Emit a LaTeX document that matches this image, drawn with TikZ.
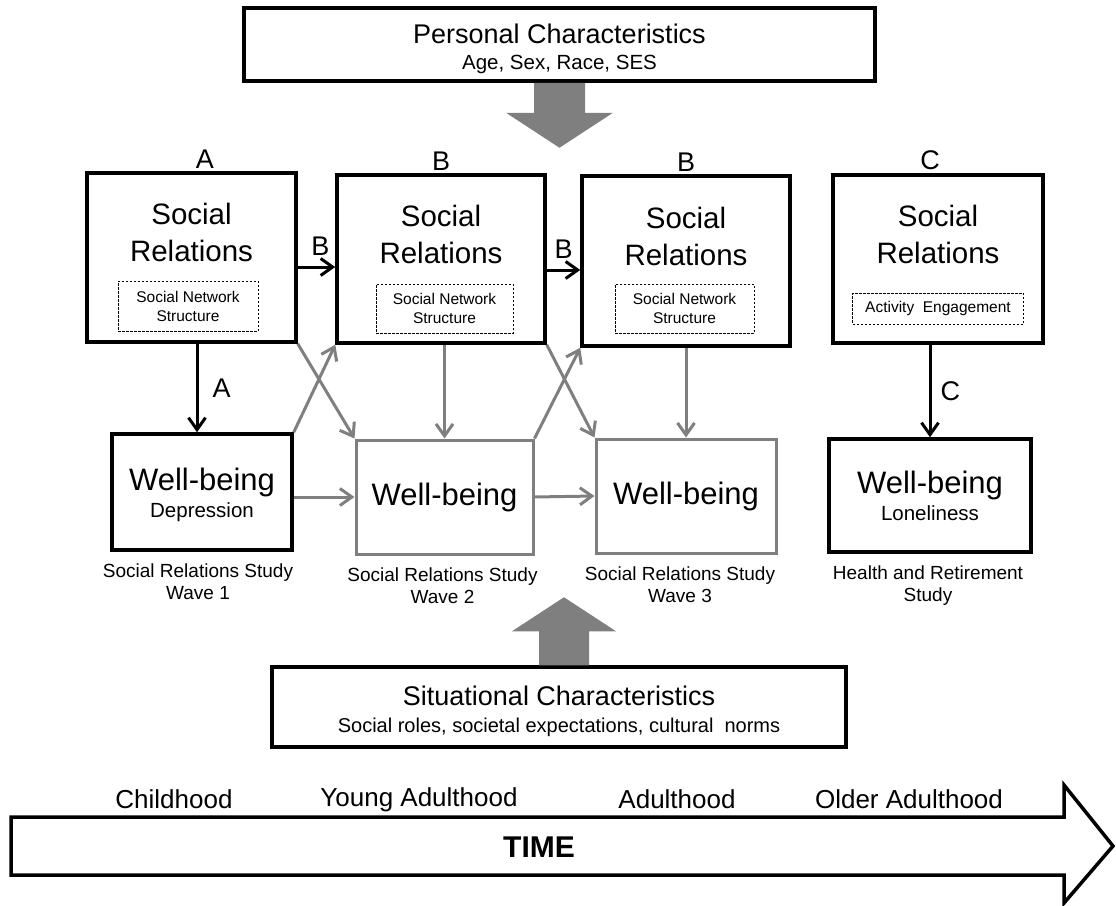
\documentclass[tikz,border=0pt]{standalone}
\usepackage{fontspec}
\setmainfont{Liberation Sans}
\usetikzlibrary{arrows.meta,positioning}
\definecolor{midgray}{HTML}{7F7F7F}

\begin{document}
\begin{tikzpicture}[x=1pt,y=-1pt,
box/.style={draw,line width=3.5pt,inner sep=0pt},
grbox/.style={draw=midgray,line width=3pt,inner sep=0pt},
netbox/.style={draw,line width=0.8pt,dash pattern=on 2.5pt off 1.5pt,align=center,inner sep=0pt,font=\fontsize{15.5}{19}\selectfont},
srtxt/.style={align=center,inner sep=0pt,font=\fontsize{29.5}{37}\selectfont},
wbtxt/.style={inner sep=0pt,font=\fontsize{31}{36}\selectfont},
hdtxt/.style={inner sep=0pt,anchor=base,font=\fontsize{27}{32}\selectfont},
subtxt/.style={inner sep=0pt,anchor=base,font=\fontsize{20.5}{24}\selectfont},
captxt/.style={align=center,inner sep=0pt,font=\fontsize{19}{22}\selectfont},
lett/.style={inner sep=0pt,font=\fontsize{27}{32}\selectfont},
agetxt/.style={inner sep=0pt,anchor=base,font=\fontsize{26}{30}\selectfont},
blk/.style={line width=3pt,-{Straight Barb[length=12pt,width=17pt]}},
gry/.style={blk,midgray},
fatarrow/.style={fill=midgray}]
\useasboundingbox (0,0) rectangle (1116,905);
% personal characteristics
\node[box,minimum width=631pt,minimum height=73pt] (pers) at (559.5,44.5) {};
\node[hdtxt] (perst) at ([yshift=1.5pt]pers.center) {Personal Characteristics};
\node[subtxt] (perss) at ([yshift=-24.5pt]pers.center) {Age, Sex, Race, SES};
\fill[fatarrow] ([xshift=-25.5pt]pers.south) -- ++(0,30) -- ++(-28,0) -- ++(53.5,35) -- ++(53.5,-35) -- ++(-28,0) -- ++(0,-30) -- cycle;
% social relations
\node[box,minimum width=209pt,minimum height=169pt] (sr1) at (191.5,257.5) {};
\node[box,minimum width=208pt,minimum height=168pt] (sr2) at (441,259) {};
\node[box,minimum width=208pt,minimum height=170pt] (sr3) at (686,261) {};
\node[box,minimum width=210pt,minimum height=168pt] (sr4) at (938,259) {};
\node[srtxt] (sr1t) at ([yshift=25pt]sr1.center) {Social\\Relations};
\node[srtxt] (sr2t) at ([yshift=25pt]sr2.center) {Social\\Relations};
\node[srtxt] (sr3t) at ([yshift=25pt]sr3.center) {Social\\Relations};
\node[srtxt] (sr4t) at ([yshift=25pt]sr4.center) {Social\\Relations};
\node[netbox,minimum width=140pt,minimum height=50pt] (sr1n) at ([xshift=-3.5pt,yshift=-48.5pt]sr1.center) {Social Network\\Structure};
\node[netbox,minimum width=137pt,minimum height=49pt] (sr2n) at ([xshift=3.5pt,yshift=-49.5pt]sr2.center) {Social Network\\Structure};
\node[netbox,minimum width=139pt,minimum height=49pt] (sr3n) at ([xshift=-1.5pt,yshift=-47.5pt]sr3.center) {Social Network\\Structure};
\node[netbox,minimum width=171pt,minimum height=31pt] (sr4n) at ([yshift=-49.5pt]sr4.center) {Activity\ \ Engagement};
\node[lett,above=3pt of sr1.north,xshift=13.5pt] (la1) {A};
\node[lett,above=3pt of sr2.north] (lb1) {B};
\node[lett,above=3pt of sr3.north] (lb2) {B};
\node[lett,above=3pt of sr4.north,xshift=-8pt] (lc1) {C};
% well-being
\node[box,minimum width=180pt,minimum height=116pt] (wb1) at (202,492) {};
\node[grbox,wbtxt,minimum width=177pt,minimum height=114pt] (wb2) at (444.5,497) {Well-being};
\node[grbox,wbtxt,minimum width=180pt,minimum height=114pt] (wb3) at (686,496) {Well-being};
\node[box,minimum width=202pt,minimum height=113pt] (wb4) at (930,495.5) {};
\node[wbtxt,anchor=base] (wb1t) at ([yshift=2pt]wb1.center) {Well-being};
\node[subtxt] (wb1s) at ([yshift=-25pt]wb1.center) {Depression};
\node[wbtxt,anchor=base] (wb4t) at ([yshift=2.5pt]wb4.center) {Well-being};
\node[subtxt] (wb4s) at ([yshift=-24.5pt]wb4.center) {Loneliness};
\node[captxt,below=12pt of wb1,xshift=-4pt] (cap1) {Social Relations Study\\Wave 1};
\node[captxt,below=12pt of wb2,xshift=-2pt] (cap2) {Social Relations Study\\Wave 2};
\node[captxt,below=12pt of wb3,xshift=-6pt] (cap3) {Social Relations Study\\Wave 3};
\node[captxt,below=12pt of wb4,xshift=-2pt] (cap4) {Health and Retirement\\Study};
% paths
\draw[blk] ([yshift=-9.5pt]sr1.east) -- ([yshift=-9.5pt]sr1.east -| sr2.west) node[lett,midway,above=10pt,xshift=4pt] (lb3) {B};
\draw[blk] ([yshift=-11pt]sr2.east) -- ([yshift=-11pt]sr2.east -| sr3.west) node[lett,midway,above=10pt] (lb4) {B};
\draw[blk] ([xshift=5.5pt]sr1.south) -- ([xshift=5.5pt]sr1.south |- wb1.north) node[lett,midway,right=14pt] (la2) {A};
\draw[blk] (wb4.north |- sr4.south) -- (wb4.north) node[lett,midway,right=9pt] (lc2) {C};
\draw[gry] (wb1.east |- wb2.west) -- (wb2.west);
\draw[gry] (wb2.east) -- (wb3.west);
\draw[gry] (wb2.north |- sr2.south) -- (wb2.north);
\draw[gry] (sr3.south) -- (wb3.north);
\draw[gry] (sr1.south east) -- (wb2.north west);
\draw[gry] (wb1.north east) -- (sr2.south west);
\draw[gry] (sr2.south east) -- (wb3.north west);
\draw[gry] (wb2.north east) -- (sr3.south west);
% situational characteristics
\node[box,minimum width=574pt,minimum height=80pt] (sit) at (559,707) {};
\node[hdtxt] (sitt) at ([yshift=2pt]sit.center) {Situational Characteristics};
\node[subtxt,font=\fontsize{20}{24}\selectfont] (sits) at ([yshift=-25pt]sit.center) {Social roles, societal expectations, cultural\ \ norms};
\fill[fatarrow] ([xshift=-20pt]sit.north) -- ++(0,-34) -- ++(-27,0) -- ++(52,-34) -- ++(52,34) -- ++(-27,0) -- ++(0,34) -- cycle;
% time
\draw[line width=3.5pt] (11,817) -- (1064,817) -- (1064,785) -- (1113,846) -- (1064,903) -- (1064,875) -- (11,875) -- cycle;
\node[inner sep=0pt,font=\fontsize{30}{34}\selectfont\bfseries] (time) at (539,847) {TIME};
\node[agetxt] (child) at (174,808) {Childhood};
\node[agetxt] (young) at (419,806) {Young Adulthood};
\node[agetxt] (adult) at (677,808) {Adulthood};
\node[agetxt] (older) at (909,808) {Older Adulthood};
\end{tikzpicture}
\end{document}
